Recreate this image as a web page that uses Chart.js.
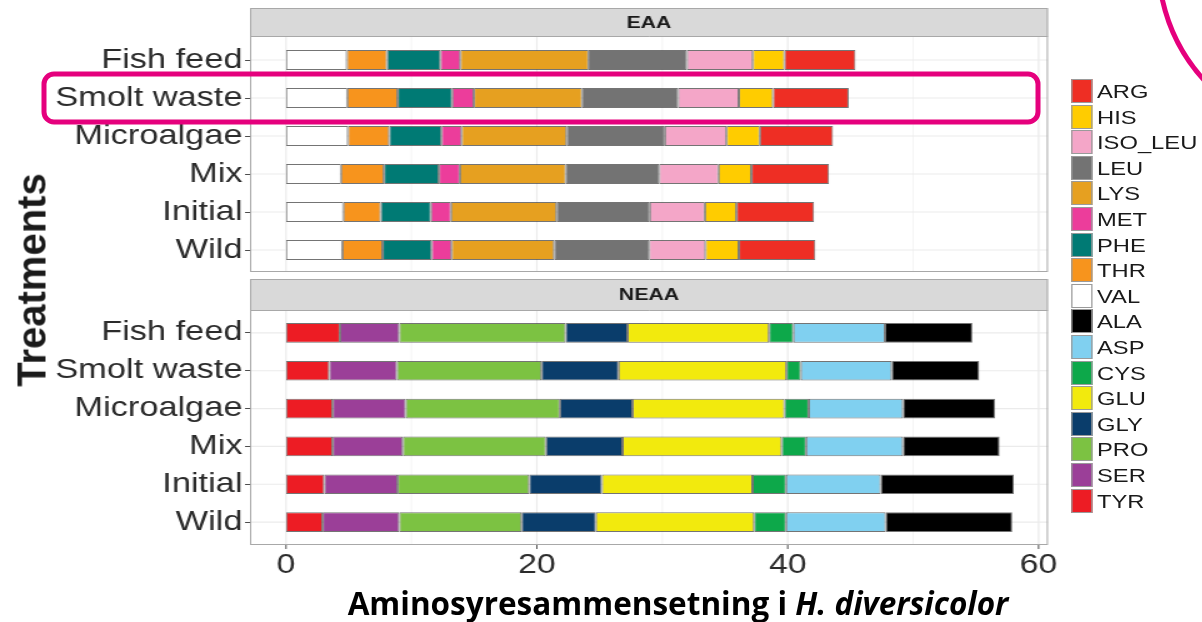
<!DOCTYPE html>
<html>
<head>
<meta charset="utf-8">
<script src="https://cdn.jsdelivr.net/npm/chart.js@4.4.1/dist/chart.umd.min.js"></script>
<style>
  html, body { margin: 0; padding: 0; background: #fff; }
  body { width: 1202px; height: 622px; position: relative; overflow: hidden; font-family: "Liberation Sans", Arial, sans-serif; }
  #stage { position: absolute; left: 0; top: 0; width: 961.6px; height: 622px; transform: scaleX(1.25); transform-origin: 0 0; }
  #stage canvas { position: absolute; left: 0; }
  #legend { position: absolute; left: 856.8px; top: 79px; }
  .key { height: 25.6px; position: relative; }
  .key span.box { position: absolute; left: 0; top: 0; width: 17.6px; height: 24px; box-sizing: border-box; border: 1px solid #9a9a9a; }
  .key span.txt { position: absolute; left: 20.8px; top: 1px; font-size: 19px; line-height: 24px; color: #1a1a1a; }
  #ytitle { position: absolute; left: 32px; top: 280px; transform: translate(-50%, -50%) rotate(-90deg); font: bold 40px "Liberation Sans", Arial, sans-serif; color: #1a1a1a; white-space: nowrap; }
  #xtitle { position: absolute; left: 678px; top: 581px; transform: translateX(-50%); font: bold 31.5px "Open Sans", Lato, sans-serif; color: #000; white-space: nowrap; }
  svg { position: absolute; left: 0; top: 0; }
</style>
</head>
<body>
<div id="stage">
  <canvas id="eaa" width="856" height="292" style="top:0"></canvas>
  <canvas id="neaa" width="856" height="344" style="top:278px"></canvas>
  <div id="legend"></div>
</div>
<div id="ytitle">Treatments</div>
<div id="xtitle">Aminosyresammensetning i <i>H. diversicolor</i></div>
<svg width="1202" height="622">
  <rect x="44" y="74" width="994" height="48" rx="10" ry="10" fill="none" stroke="#e5007d" stroke-width="5"/>
  <path d="M 1162 -2 Q 1172 45 1204 80" fill="none" stroke="#e5007d" stroke-width="5"/>
</svg>
<script>
const treatments = ['Fish feed', 'Smolt waste', 'Microalgae', 'Mix', 'Initial', 'Wild'];
const xTickValues = [0, 20, 40, 60];
const xMinorValues = [10, 30, 50];

// EAA (prosent), rekkefølge som treatments
const ARG = [5.66, 6.03, 5.84, 6.19, 6.19, 6.10];
const HIS = [2.52, 2.73, 2.65, 2.62, 2.52, 2.66];
const ISO_LEU = [5.26, 4.84, 4.92, 4.73, 4.39, 4.49];
const LEU = [7.84, 7.65, 7.83, 7.44, 7.43, 7.57];
const LYS = [10.22, 8.63, 8.37, 8.45, 8.42, 8.18];
const MET = [1.59, 1.73, 1.60, 1.67, 1.60, 1.59];
const PHE = [4.26, 4.35, 4.17, 4.38, 4.00, 3.91];
const THR = [3.20, 4.02, 3.29, 3.43, 2.98, 3.21];
const VAL = [4.85, 4.88, 4.94, 4.38, 4.57, 4.49];

// NEAA
const ALA = [6.97, 6.98, 7.33, 7.70, 10.62, 10.09];
const ASP = [7.30, 7.25, 7.52, 7.73, 7.55, 7.95];
const CYS = [1.94, 1.14, 1.93, 1.94, 2.67, 2.54];
const GLU = [11.28, 13.39, 12.11, 12.69, 12.01, 12.62];
const GLY = [4.94, 6.14, 5.80, 6.11, 5.79, 5.92];
const PRO = [13.26, 11.53, 12.29, 11.40, 10.49, 9.75];
const SER = [4.73, 5.39, 5.82, 5.60, 5.85, 6.11];
const TYR = [4.30, 3.45, 3.72, 3.72, 3.05, 2.92];

const eaaNames = ['ARG', 'HIS', 'ISO_LEU', 'LEU', 'LYS', 'MET', 'PHE', 'THR', 'VAL'];
const eaaValues = [ARG, HIS, ISO_LEU, LEU, LYS, MET, PHE, THR, VAL];
const neaaNames = ['ALA', 'ASP', 'CYS', 'GLU', 'GLY', 'PRO', 'SER', 'TYR'];
const neaaValues = [ALA, ASP, CYS, GLU, GLY, PRO, SER, TYR];

const colors = {
  ARG: '#ee2e24', HIS: '#ffcc00', ISO_LEU: '#f4a6c8', LEU: '#737373', LYS: '#e6a020',
  MET: '#ec3d9b', PHE: '#007a74', THR: '#f7941d', VAL: '#ffffff',
  ALA: '#000000', ASP: '#80d0f0', CYS: '#0da84a', GLU: '#f2ea0d', GLY: '#0a3d6b',
  PRO: '#7cc242', SER: '#9b3f98', TYR: '#ed1c24'
};

const FONT = '"Liberation Sans", Arial, sans-serif';

// ggplot stabler siste faktornivå først (lengst til venstre)
function lagDatasets(names, values) {
  const sets = names.map((n, i) => ({
    label: n,
    data: values[i],
    backgroundColor: colors[n],
    borderColor: 'rgba(70,70,70,0.75)',
    borderWidth: 1,
    borderSkipped: false,
    barPercentage: 0.52,
    categoryPercentage: 1
  }));
  return sets.reverse();
}

// tegner facett-panelet (strip, bakgrunn, rutenett, ramme)
const panelPlugin = {
  id: 'panel',
  beforeDraw(chart, args, opts) {
    const { ctx, chartArea, scales } = chart;
    const l = chartArea.left, r = chartArea.right;
    ctx.save();
    ctx.fillStyle = '#d9d9d9';
    ctx.fillRect(l, opts.stripTop, r - l, opts.stripBottom - opts.stripTop);
    ctx.fillStyle = '#ffffff';
    ctx.fillRect(l, opts.stripBottom, r - l, opts.bodyBottom - opts.stripBottom);

    ctx.strokeStyle = '#f3f3f3';
    ctx.lineWidth = 0.8;
    xMinorValues.forEach(v => {
      const x = scales.x.getPixelForValue(v);
      ctx.beginPath(); ctx.moveTo(x, opts.stripBottom); ctx.lineTo(x, opts.bodyBottom); ctx.stroke();
    });
    ctx.strokeStyle = '#ebebeb';
    ctx.lineWidth = 1.2;
    xTickValues.forEach(v => {
      const x = scales.x.getPixelForValue(v);
      ctx.beginPath(); ctx.moveTo(x, opts.stripBottom); ctx.lineTo(x, opts.bodyBottom); ctx.stroke();
    });
    treatments.forEach((t, i) => {
      const y = scales.y.getPixelForValue(i);
      ctx.beginPath(); ctx.moveTo(l, y); ctx.lineTo(r, y); ctx.stroke();
    });

    ctx.strokeStyle = '#a8a8a8';
    ctx.lineWidth = 1;
    ctx.strokeRect(l + 0.5, opts.stripTop + 0.5, r - l - 1, opts.bodyBottom - opts.stripTop - 1);
    ctx.beginPath(); ctx.moveTo(l, opts.stripBottom + 0.5); ctx.lineTo(r, opts.stripBottom + 0.5); ctx.stroke();

    ctx.fillStyle = '#1a1a1a';
    ctx.font = 'bold 17px ' + FONT;
    ctx.textAlign = 'center';
    ctx.textBaseline = 'middle';
    ctx.fillText(opts.title, (l + r) / 2, (opts.stripTop + opts.stripBottom) / 2 + 1);
    ctx.restore();
  },
  afterDraw(chart, args, opts) {
    if (!opts.xTicks) return;
    const { ctx, scales } = chart;
    ctx.save();
    ctx.strokeStyle = '#4d4d4d';
    ctx.lineWidth = 1;
    xTickValues.forEach(v => {
      const x = scales.x.getPixelForValue(v);
      ctx.beginPath(); ctx.moveTo(x, opts.bodyBottom); ctx.lineTo(x, opts.bodyBottom + 4); ctx.stroke();
    });
    ctx.restore();
  }
};

function lagConfig(names, values, panel, padding, visX) {
  return {
    type: 'bar',
    data: { labels: treatments, datasets: lagDatasets(names, values) },
    plugins: [panelPlugin],
    options: {
      indexAxis: 'y',
      responsive: false,
      animation: false,
      layout: { padding: padding },
      plugins: {
        legend: { display: false },
        tooltip: { enabled: false },
        panel: panel
      },
      scales: {
        x: {
          type: 'linear', stacked: true, min: -2.87, max: 60.75,
          display: visX,
          grid: { display: false, drawTicks: false },
          border: { display: false },
          afterBuildTicks(s) { s.ticks = xTickValues.map(v => ({ value: v })); },
          ticks: { color: '#2b2b2b', font: { size: 27, family: FONT }, padding: 8 },
          afterFit(s) { s.height = visX ? 81 : 0; }
        },
        y: {
          type: 'category', stacked: true, offset: true,
          grid: { display: true, offset: false, drawOnChartArea: false, drawTicks: true, tickLength: 4, color: '#4d4d4d' },
          border: { display: false },
          ticks: { color: '#2b2b2b', font: { size: 27.5, family: FONT }, padding: 2, autoSkip: false },
          afterFit(s) { s.width = 200; }
        }
      }
    }
  };
}

document.addEventListener('DOMContentLoaded', function () {
  new Chart(document.getElementById('eaa'),
    lagConfig(eaaNames, eaaValues, { title: 'EAA', stripTop: 8, stripBottom: 36, bodyBottom: 272 },
      { top: 41, right: 17.6, bottom: 23, left: 0 }, false));
  new Chart(document.getElementById('neaa'),
    lagConfig(neaaNames, neaaValues, { title: 'NEAA', stripTop: 1, stripBottom: 32, bodyBottom: 267, xTicks: true },
      { top: 36, right: 17.6, bottom: 0, left: 0 }, true));

  // legende, samme rekkefølge som i figuren
  const legend = document.getElementById('legend');
  eaaNames.concat(neaaNames).forEach(n => {
    const row = document.createElement('div');
    row.className = 'key';
    row.innerHTML = '<span class="box" style="background:' + colors[n] + '"></span><span class="txt">' + n + '</span>';
    legend.appendChild(row);
  });
});
</script>
</body>
</html>
